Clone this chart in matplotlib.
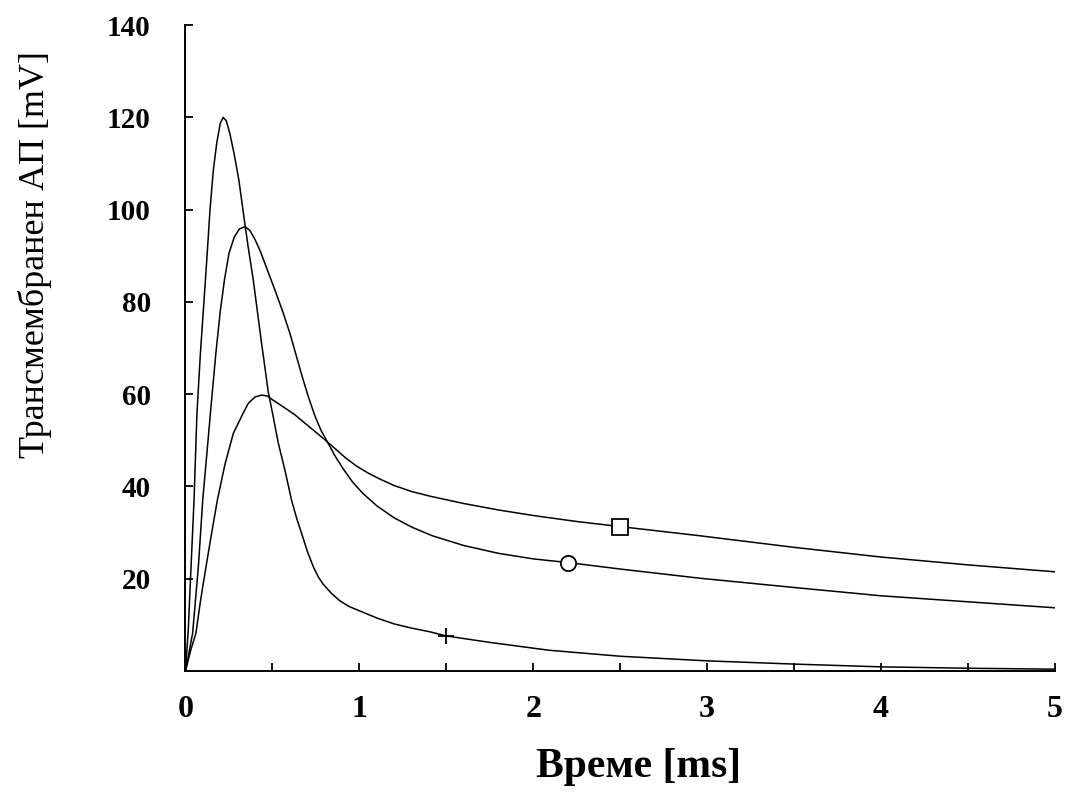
import numpy as np
import matplotlib.pyplot as plt

# curve with the tallest, narrowest peak (marked with +)
t_a = [0, 0.016, 0.03, 0.049, 0.066, 0.086, 0.106, 0.124, 0.141, 0.16, 0.18, 0.2,
       0.217, 0.235, 0.255, 0.28, 0.307, 0.332, 0.36, 0.39, 0.434, 0.476, 0.505,
       0.533, 0.572, 0.61, 0.64, 0.668, 0.70, 0.735, 0.765, 0.792, 0.84, 0.888,
       0.94, 1.003, 1.1, 1.2, 1.3, 1.405, 1.5, 1.75, 2.09, 2.5, 3.0, 3.5, 4.0,
       4.5, 5.0]
v_a = [0, 9, 21, 37, 56, 69, 80, 90, 100, 108.5, 114.5, 118.7,
       120, 119.2, 116.5, 112, 106.4, 99.5, 92, 84.7, 72, 60.5, 55,
       49.5, 43.5, 37, 33, 29.8, 26, 22.6, 20.3, 18.8, 16.8, 15.2,
       14, 13, 11.5, 10.2, 9.3, 8.5, 7.6, 6.2, 4.5, 3.2, 2.2, 1.5, 0.9,
       0.6, 0.4]

# middle curve (marked with o)
t_b = [0, 0.041, 0.074, 0.099, 0.125, 0.15, 0.175, 0.2, 0.225, 0.25, 0.28, 0.31,
       0.342, 0.37, 0.40, 0.43, 0.47, 0.514, 0.56, 0.602, 0.635, 0.668, 0.705,
       0.744, 0.78, 0.821, 0.86, 0.907, 0.96, 1.02, 1.1, 1.2, 1.3, 1.42, 1.6,
       1.8, 2.0, 2.2, 2.5, 2.96, 3.5, 4.0, 4.5, 5.0]
v_b = [0, 8.2, 22.6, 37, 48, 58.7, 69, 78, 85, 90.5, 94, 95.8,
       96.3, 95.5, 93.5, 91, 87, 82.6, 77.8, 73, 68.6, 64.2, 59.6,
       55.3, 52.1, 49.3, 46.6, 43.8, 41, 38.5, 35.8, 33.2, 31.2, 29.3, 27.2,
       25.5, 24.3, 23.5, 22.1, 20.1, 18.1, 16.3, 15, 13.7]

# lowest, widest peak (marked with square)
t_c = [0, 0.03, 0.06, 0.087, 0.118, 0.15, 0.183, 0.227, 0.275, 0.332, 0.361, 0.40,
       0.438, 0.47, 0.50, 0.572, 0.63, 0.687, 0.745, 0.802, 0.86, 0.917, 0.98,
       1.05, 1.118, 1.2, 1.3, 1.405, 1.6, 1.8, 2.0, 2.25, 2.5, 2.96, 3.5, 4.0,
       4.5, 5.0]
v_c = [0, 4.5, 8.2, 15.4, 22.6, 29.8, 37, 44.8, 51.5, 55.9, 58, 59.4,
       59.8, 59.6, 58.8, 57, 55.5, 53.7, 51.9, 50.1, 48.2, 46.3, 44.5,
       42.9, 41.6, 40.2, 38.9, 37.9, 36.3, 34.9, 33.7, 32.4, 31.3, 29.3, 26.8, 24.7,
       23, 21.5]

marker_pts = {'+': (1.5, 7.6), 'o': (2.2, 23.5), 's': (2.5, 31.3)}

serif = ['Liberation Serif', 'DejaVu Serif']

fig = plt.figure(figsize=(10.71, 7.94), dpi=100)
ax = fig.add_axes([0.1732, 0.1549, 0.8118, 0.8136])

ax.plot(t_a, v_a, color='black', lw=1.1)
ax.plot(t_b, v_b, color='black', lw=1.1)
ax.plot(t_c, v_c, color='black', lw=1.1)

ax.plot(*marker_pts['+'], marker='+', ms=12, mew=1.3, color='black')
ax.plot(*marker_pts['o'], marker='o', ms=11, mew=1.3, mfc='white', mec='black')
ax.plot(*marker_pts['s'], marker='s', ms=12, mew=1.3, mfc='white', mec='black')

ax.set_xlim(0, 5)
ax.set_ylim(0, 140)
ax.spines['top'].set_visible(False)
ax.spines['right'].set_visible(False)
ax.spines['left'].set_linewidth(1.4)
ax.spines['bottom'].set_linewidth(1.4)

xt = np.arange(0, 5.01, 0.5)
ax.set_xticks(xt)
ax.set_xticklabels([str(int(x)) if x == int(x) else '' for x in xt],
                   family=serif, fontweight='bold', fontsize=23)
yt = np.arange(20, 141, 20)
ax.set_yticks(yt)
ax.set_yticklabels([str(y) for y in yt], family=serif, fontweight='bold', fontsize=21)
ax.tick_params(axis='x', direction='in', length=6, width=1.3, pad=17)
ax.tick_params(axis='y', direction='in', length=6, width=1.3, pad=25)

fig.text(0.596, 0.034, 'Време [ms]', family=serif, fontweight='bold', fontsize=30,
         ha='center', va='center')
fig.text(0.033, 0.68, 'Трансмембранен АП [mV]', family=serif, fontsize=26,
         rotation=90, ha='center', va='center')

fig.savefig('out.png', dpi=100)
